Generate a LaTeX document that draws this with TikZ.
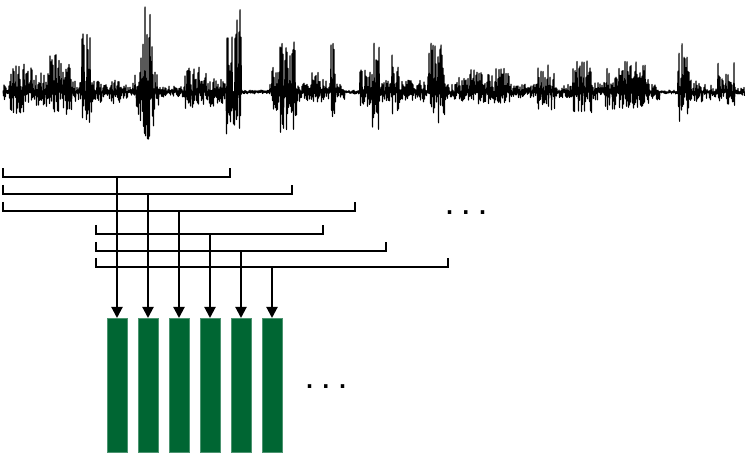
\documentclass[tikz,border=0pt]{standalone}
\usepackage{fontspec}
\setmainfont{Liberation Sans}
\usetikzlibrary{arrows.meta}
\definecolor{bargreen}{RGB}{0,102,51}
\tikzset{
  wave/.style={line width=1pt,line join=round},
  bracket/.style={line width=2pt},
  feed/.style={line width=2pt,-{Triangle[length=11pt,width=11pt]}},
  bar/.style={fill=bargreen,draw=bargreen!70!white,line width=0.5pt,minimum width=20pt,minimum height=134pt,inner sep=0pt,outer sep=0pt},
  dots/.style={font=\fontsize{36}{36}\selectfont,inner sep=0pt}
}
\begin{document}
\begin{tikzpicture}[x=1pt,y=-1pt]
\useasboundingbox (0,0) rectangle (747,454);
% waveform
\pgfmathsetseed{7}
\draw[wave] (3,92) foreach \s/\e/\u/\d in {
3/9/8/8, 10/24/28/22, 25/49/25/15, 50/59/38/20, 60/71/30/25, 72/81/12/10,
82/91/60/32, 92/99/12/10, 100/119/12/12, 120/134/10/8, 135/139/30/30,
140/154/90/54, 155/159/20/15, 160/184/6/5, 185/199/25/20, 200/214/20/15,
215/224/15/12, 225/241/90/46, 242/269/2/2, 270/279/25/20, 280/297/52/45,
298/309/10/10, 310/329/20/10, 330/335/50/25, 336/344/8/8, 345/359/2/2,
360/371/25/15, 372/379/50/38, 380/391/12/10, 392/399/45/25, 400/427/12/10,
428/444/52/31, 445/454/10/8, 455/469/15/10, 470/489/25/12, 490/509/25/12,
510/536/8/6, 537/554/28/20, 555/571/8/6, 572/591/32/22, 592/604/10/8,
605/649/32/18, 650/659/8/8, 660/677/2/2, 678/689/50/33, 690/711/12/10,
712/717/5/5, 718/734/32/15, 735/744/5/4}{
  foreach \i in {\s,...,\e}{ -- (\i,{92-\u*rnd}) -- ({\i+0.5},{92+\d*rnd}) }
};
% bracket coordinates
\foreach \n/\l/\r/\y in {1/3/230/177.5, 2/3/292/194, 3/3/355/211, 4/96/323/234, 5/96/386/251, 6/96/448/267}{
  \coordinate (l\n) at (\l,{\y-9});
  \coordinate (r\n) at (\r,{\y-9});
}
\foreach \n in {1,...,6}{
  \draw[bracket] (l\n) -- ++(0,9) -| (r\n);
}
% bars
\foreach \n/\x in {1/117, 2/148, 3/179, 4/210, 5/241, 6/272}{
  \node[bar] (b\n) at (\x,385) {};
}
% taps
\foreach \n/\y in {1/177.5, 2/194, 3/211, 4/234, 5/251, 6/267}{
  \coordinate (t\n) at (b\n.north |- 0,\y);
  \draw[feed] (t\n) -- (b\n.north);
}
% dots
\node[dots] (d1) at (466,213) {.\kern6.5pt.\kern6.5pt.};
\node[dots] (d2) at (326,387) {.\kern6.5pt.\kern6.5pt.};
\end{tikzpicture}
\end{document}
